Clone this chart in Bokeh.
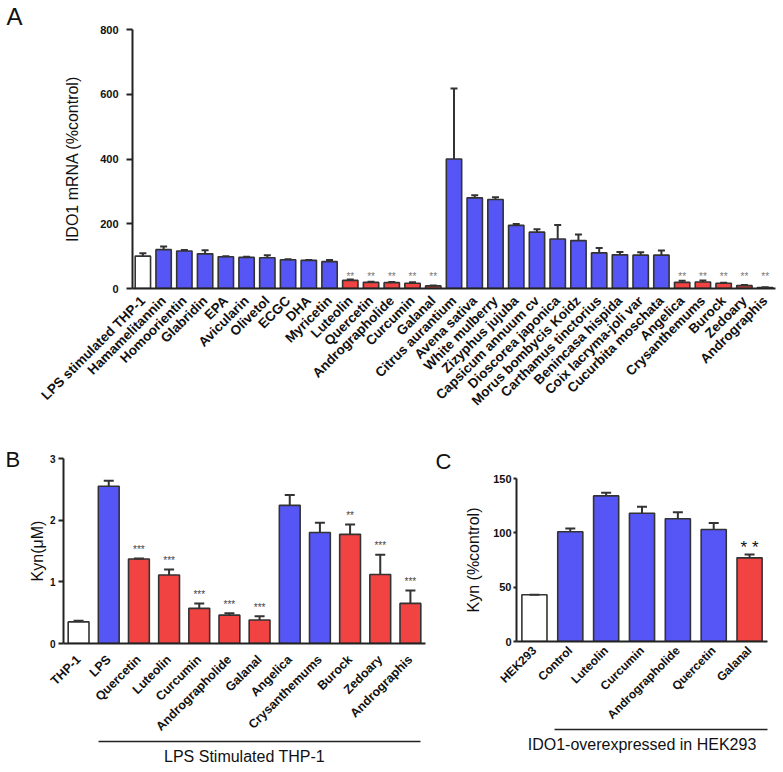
import math
from bokeh.plotting import figure
from bokeh.models import (ColumnDataSource, Whisker, TeeHead, CategoricalAxis,
                          Range1d, FixedTicker, FactorRange)
from bokeh.layouts import column, row
from bokeh.embed import file_html
from bokeh.resources import INLINE
from bokeh.core.properties import value

# ---------------- data ----------------
a_names = ["LPS stimulated THP-1", "Hamamelitannin", "Homoorientin", "Glabridin", "EPA",
           "Avicularin", "Olivetol", "ECGC", "DHA", "Myricetin", "Luteolin", "Quercetin",
           "Andrographolide", "Curcumin", "Galanal", "Citrus aurantium", "Avena sativa",
           "White mulberry", "Zizyphus jujuba", "Capsicum annuum cv", "Dioscorea japonica",
           "Morus bombycis Koidz", "Carthamus tinctorius", "Benincasa hispida",
           "Coix lacryma-joli var", "Cucurbita moschata", "Angelica", "Crysanthemums",
           "Burock", "Zedoary", "Andrographis"]
a_means = [100, 120, 116, 107, 98, 96, 95, 89, 87, 83, 25, 19, 18, 16, 8,
           400, 280, 275, 195, 174, 153, 148, 110, 104, 103, 103, 19, 20, 16, 9, 3]
a_errs = [9, 10, 3, 11, 2, 2, 8, 1, 1, 5, 3, 2, 2, 3, 1,
          218, 8, 7, 4, 9, 43, 19, 15, 9, 9, 14, 5, 5, 2, 2, 1]
a_kind = ["ctrl"] + ["blue"] * 9 + ["red"] * 5 + ["blue"] * 11 + ["red"] * 5
a_stars = ["" if k != "red" else "**" for k in a_kind]
a_ticks = [0, 200, 400, 600, 800]

b_names = ["THP-1", "LPS", "Quercetin", "Luteolin", "Curcumin", "Andrographolide", "Galanal",
           "Angelica", "Crysanthemums", "Burock", "Zedoary", "Andrographis"]
b_means = [0.35, 2.55, 1.37, 1.11, 0.57, 0.46, 0.38, 2.24, 1.80, 1.77, 1.12, 0.65]
b_errs = [0.02, 0.09, 0.01, 0.09, 0.08, 0.03, 0.06, 0.17, 0.16, 0.16, 0.32, 0.21]
b_kind = ["ctrl", "blue", "red", "red", "red", "red", "red", "blue", "blue", "red", "red", "red"]
b_stars = ["", "", "***", "***", "***", "***", "***", "", "", "**", "***", "***"]
b_ticks = [0, 1, 2, 3]

c_names = ["HEK293", "Control", "Luteolin", "Curcumin", "Andrographolide", "Quercetin", "Galanal"]
c_means = [43, 101, 134, 118, 113, 103, 77]
c_errs = [0, 3, 3, 6, 6, 6, 3]
c_kind = ["ctrl", "blue", "blue", "blue", "blue", "blue", "red"]
c_stars = ["", "", "", "", "", "", "* *"]
c_ticks = [0, 50, 100, 150]

# ---------------- style ----------------
FONT = "Liberation Sans"
COLORS = {"ctrl": "#ffffff", "blue": "#5656f6", "red": "#f24343"}
EDGE = "#333333"


def style_axes(p, tick_size, xlab_size, ylabel, ylabel_size, ylabel_standoff, tick_standoff,
               tick_out, xlab_standoff=4):
    p.xgrid.visible = False
    p.ygrid.visible = False
    p.outline_line_color = None
    for ax in p.xaxis + p.yaxis:
        ax.axis_line_width = 2
        ax.axis_line_color = "#222222"
        ax.minor_tick_line_color = None
        ax.major_label_text_font = FONT
        ax.major_label_text_font_style = "bold"
        ax.major_label_text_color = "#111111"
        ax.axis_label_text_font = FONT
        ax.axis_label_text_font_style = "normal"
        ax.axis_label_text_color = "#111111"
    xa = p.xaxis[0]
    xa.major_tick_line_color = None
    xa.major_label_orientation = math.pi / 4
    xa.major_label_text_font_size = xlab_size
    xa.major_label_standoff = xlab_standoff
    p.yaxis.major_label_text_font_size = tick_size
    p.yaxis.major_tick_out = tick_out
    p.yaxis.major_tick_in = 0
    p.yaxis.major_tick_line_width = 2
    p.yaxis.major_tick_line_color = "#222222"
    p.yaxis.major_label_standoff = tick_standoff
    p.yaxis.axis_label = ylabel
    p.yaxis.axis_label_text_font_size = ylabel_size
    p.yaxis.axis_label_standoff = ylabel_standoff


def bars(p, names, means, errs, kinds, stars, bw, cap, star_size, star_color, star_off,
         star_y=None):
    src = ColumnDataSource(dict(
        name=names, mean=means, upper=[m + e for m, e in zip(means, errs)],
        color=[COLORS[k] for k in kinds], star=stars,
        sy=[star_y if star_y is not None else m + e for m, e in zip(means, errs)],
    ))
    p.vbar(x="name", top="mean", width=bw, source=src, fill_color="color",
           line_color=EDGE, line_width=1.6)
    w = Whisker(base="name", upper="upper", lower="mean", source=src,
                upper_head=TeeHead(size=cap, line_color=EDGE, line_width=2),
                lower_head=None, line_color=EDGE, line_width=2, level="overlay")
    p.add_layout(w)
    p.text(x="name", y="sy", text="star", source=src, text_font=value(FONT),
           text_font_size=star_size, text_color=star_color, text_align="center",
           text_baseline="alphabetic", y_offset=star_off)


def letter(p, txt, offset, size, standoff):
    p.title.text = txt
    p.title.text_font = FONT
    p.title.text_font_size = size
    p.title.text_font_style = "normal"
    p.title.text_color = "#111111"
    p.title.align = "left"
    p.title.offset = offset
    p.title.standoff = standoff


def group_axis(p, lo, hi, label, label_standoff, line_gap):
    ax = CategoricalAxis(bounds=(lo, hi), axis_label=label, ticker=FixedTicker(ticks=[]),
                         axis_line_width=1.5, axis_line_color="#222222",
                         major_tick_line_color=None, minor_tick_line_color=None,
                         major_label_standoff=0,
                         axis_label_text_font=FONT,
                         axis_label_text_font_style="normal", axis_label_text_font_size="16px",
                         axis_label_text_color="#111111", axis_label_standoff=label_standoff)
    p.add_layout(ax, "below")
    return ax


# ---------------- panel A ----------------
pA = figure(x_range=FactorRange(*a_names), y_range=Range1d(0, 800), width=783, height=416,
            output_backend="svg", toolbar_location=None,
            min_border_left=132, min_border_right=8, min_border_top=29, min_border_bottom=127)
bars(pA, a_names, a_means, a_errs, a_kind, a_stars, 0.74, 7, "10px", "#777777", 0, star_y=36)
style_axes(pA, "11px", "13.5px", "IDO1 mRNA (%control)", "16px", 16, 8, 6)
pA.yaxis.ticker = FixedTicker(ticks=a_ticks)
letter(pA, "A", -126, "24px", 0)

# ---------------- panel B ----------------
BW_B = 0.69
pB = figure(x_range=FactorRange(*b_names), y_range=Range1d(0, 3), width=430, height=356,
            output_backend="svg", toolbar_location=None,
            min_border_left=63, min_border_right=5, min_border_top=42, min_border_bottom=129)
bars(pB, b_names, b_means, b_errs, b_kind, b_stars, BW_B, 10, "10px", "#444444", -9)
style_axes(pB, "10px", "12.5px", "Kyn(μM)", "16px", 1, 3, 5, xlab_standoff=8)
pB.yaxis.ticker = FixedTicker(ticks=b_ticks)
nB = len(b_names)
group_axis(pB, 1.5 - BW_B / 2, nB - 0.5 + BW_B / 2, "LPS Stimulated THP-1", 6, 0)
letter(pB, "B", -58, "22px", -26)

# ---------------- panel C ----------------
BW_C = 0.70
pC = figure(x_range=FactorRange(*c_names), y_range=Range1d(0, 150), width=353, height=356,
            output_backend="svg", toolbar_location=None,
            min_border_left=86, min_border_right=16, min_border_top=62, min_border_bottom=131)
bars(pC, c_names, c_means, c_errs, c_kind, c_stars, BW_C, 10, "17px", "#111111", -7)
style_axes(pC, "11px", "12px", "Kyn (%control)", "16px", 8, 2, 3, xlab_standoff=1)
pC.yaxis.ticker = FixedTicker(ticks=c_ticks)
nC = len(c_names)
group_axis(pC, 1.5 - BW_C / 2 - 0.1, nC, "IDO1-overexpressed in HEK293", 6, 0)
letter(pC, "C", -81, "22px", 10)

layout = column(pA, row(column(pB), column(pC), spacing=0), spacing=0)
open("out.html", "w").write(file_html(layout, INLINE))
